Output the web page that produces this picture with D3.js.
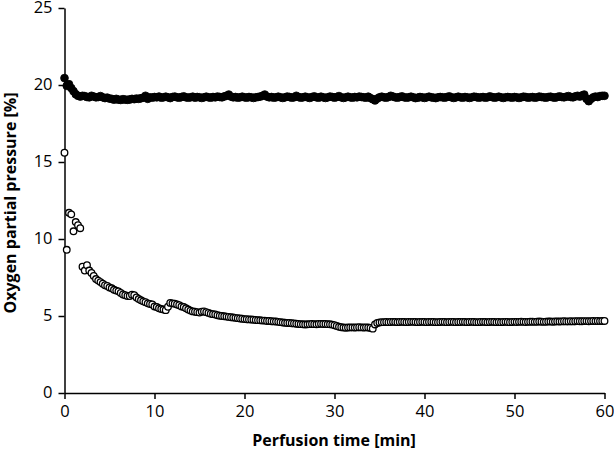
<!DOCTYPE html>
<html><head><meta charset="utf-8">
<script src="https://cdn.jsdelivr.net/npm/d3@7"></script>
<style>html,body{margin:0;padding:0;background:#fff;}svg{display:block;}</style>
</head><body>
<svg id="chart" width="614" height="452"></svg>
<script>
// sampling step of the recording, in minutes
const sampleStep = 0.25;
const xTicks = [0, 10, 20, 30, 40, 50, 60];
const yTicks = [0, 5, 10, 15, 20, 25];
const xTitle = "Perfusion time [min]";
const yTitle = "Oxygen partial pressure [%]";

// filled circles
const normoxia = [
 20.45, 19.95, 20.05, 19.8, 19.6, 19.4, 19.3, 19.25,
 19.3, 19.28, 19.22, 19.2, 19.3, 19.25, 19.2, 19.22,
 19.28, 19.2, 19.15, 19.18, 19.12, 19.1, 19.05, 19.1,
 19.05, 19.03, 19.08, 19.05, 19.04, 19.06, 19.1, 19.08,
 19.12, 19.1, 19.14, 19.18, 19.3, 19.1, 19.2, 19.18,
 19.22, 19.2, 19.25, 19.18, 19.2, 19.24, 19.2, 19.15,
 19.22, 19.25, 19.2, 19.18, 19.22, 19.26, 19.2, 19.18,
 19.2, 19.24, 19.18, 19.22, 19.2, 19.16, 19.2, 19.24,
 19.2, 19.18, 19.22, 19.2, 19.25, 19.22, 19.2, 19.26,
 19.3, 19.38, 19.25, 19.2, 19.22, 19.18, 19.2, 19.24,
 19.2, 19.18, 19.22, 19.2, 19.16, 19.2, 19.22, 19.25,
 19.3, 19.38, 19.25, 19.2, 19.22, 19.18, 19.2, 19.24,
 19.2, 19.16, 19.2, 19.25, 19.22, 19.18, 19.2, 19.3,
 19.22, 19.18, 19.2, 19.24, 19.2, 19.16, 19.22, 19.26,
 19.2, 19.18, 19.24, 19.2, 19.16, 19.2, 19.25, 19.22,
 19.18, 19.22, 19.28, 19.2, 19.16, 19.2, 19.24, 19.2,
 19.18, 19.22, 19.2, 19.25, 19.22, 19.2, 19.18, 19.24,
 19.15, 19.08, 19.0, 19.12, 19.2, 19.24, 19.2, 19.18,
 19.22, 19.3, 19.25, 19.2, 19.18, 19.22, 19.26, 19.2,
 19.18, 19.2, 19.24, 19.2, 19.15, 19.18, 19.22, 19.2,
 19.16, 19.2, 19.24, 19.2, 19.18, 19.15, 19.2, 19.22,
 19.2, 19.18, 19.22, 19.26, 19.2, 19.16, 19.2, 19.24,
 19.2, 19.18, 19.22, 19.2, 19.16, 19.2, 19.24, 19.22,
 19.18, 19.2, 19.22, 19.18, 19.2, 19.26, 19.22, 19.18,
 19.2, 19.24, 19.2, 19.16, 19.2, 19.22, 19.2, 19.18,
 19.22, 19.2, 19.16, 19.2, 19.24, 19.22, 19.18, 19.2,
 19.22, 19.18, 19.2, 19.25, 19.22, 19.2, 19.18, 19.22,
 19.24, 19.2, 19.18, 19.22, 19.26, 19.22, 19.2, 19.24,
 19.28, 19.22, 19.2, 19.26, 19.3, 19.25, 19.32, 19.38,
 19.1, 18.95, 19.1, 19.2, 19.25, 19.22, 19.28, 19.3,
 19.3
];

// open circles
const hypoxia = [
 15.6, 9.3, 11.7, 11.6, 10.5, 11.1, 10.9, 10.7,
 8.2, 7.95, 8.3, 7.95, 7.8, 7.6, 7.4, 7.3,
 7.2, 7.1, 7.0, 6.95, 6.85, 6.8, 6.7, 6.65,
 6.6, 6.5, 6.4, 6.35, 6.3, 6.3, 6.38, 6.35,
 6.2, 6.1, 6.02, 5.95, 5.9, 5.82, 5.78, 5.75,
 5.62, 5.58, 5.5, 5.45, 5.42, 5.38, 5.6, 5.85,
 5.82, 5.8, 5.75, 5.7, 5.62, 5.58, 5.5, 5.42,
 5.35, 5.3, 5.28, 5.25, 5.22, 5.28, 5.3, 5.25,
 5.2, 5.15, 5.12, 5.1, 5.05, 5.02, 5.0, 4.98,
 4.96, 4.94, 4.92, 4.9, 4.88, 4.86, 4.84, 4.82,
 4.8, 4.79, 4.78, 4.77, 4.76, 4.74, 4.73, 4.72,
 4.7, 4.7, 4.68, 4.68, 4.66, 4.65, 4.64, 4.62,
 4.6, 4.58, 4.56, 4.55, 4.55, 4.53, 4.52, 4.5,
 4.48, 4.47, 4.46, 4.45, 4.46, 4.47, 4.48, 4.47,
 4.46, 4.48, 4.49, 4.48, 4.48, 4.47, 4.46, 4.44,
 4.4, 4.35, 4.3, 4.27, 4.25, 4.24, 4.25, 4.26,
 4.26, 4.25, 4.26, 4.27, 4.26, 4.25, 4.26, 4.25,
 4.22, 4.18, 4.45, 4.55, 4.58, 4.6, 4.6, 4.61,
 4.6, 4.61, 4.62, 4.61, 4.6, 4.61, 4.62, 4.61,
 4.6, 4.61, 4.62, 4.62, 4.61, 4.6, 4.61, 4.62,
 4.61, 4.6, 4.61, 4.62, 4.61, 4.6, 4.6, 4.61,
 4.62, 4.61, 4.6, 4.61, 4.62, 4.61, 4.6, 4.61,
 4.61, 4.62, 4.61, 4.6, 4.61, 4.62, 4.61, 4.6,
 4.6, 4.61, 4.62, 4.61, 4.6, 4.61, 4.62, 4.61,
 4.6, 4.61, 4.6, 4.61, 4.62, 4.61, 4.6, 4.61,
 4.62, 4.61, 4.62, 4.63, 4.62, 4.61, 4.62, 4.63,
 4.63, 4.62, 4.63, 4.64, 4.63, 4.62, 4.63, 4.64,
 4.64, 4.63, 4.64, 4.65, 4.64, 4.65, 4.66, 4.65,
 4.65, 4.66, 4.65, 4.66, 4.67, 4.66, 4.66, 4.67,
 4.67, 4.66, 4.67, 4.68, 4.67, 4.68, 4.67, 4.68,
 4.68
];

const svg = d3.select("#chart");
const x = d3.scaleLinear().domain([0, 60]).range([64.5, 604.5]);
const y = d3.scaleLinear().domain([0, 25]).range([393, 8]);
const font = "'Open Sans', sans-serif";

// axes
const gx = svg.append("g").attr("transform", `translate(0,${y(0)})`)
  .call(d3.axisBottom(x).tickValues(xTicks).tickSize(6).tickSizeOuter(0).tickPadding(6));
const gy = svg.append("g").attr("transform", `translate(${x(0)},0)`)
  .call(d3.axisLeft(y).tickValues(yTicks).tickSize(6).tickSizeOuter(0).tickPadding(6));
[gx, gy].forEach(g => {
  g.selectAll("path.domain").attr("stroke", "#000").attr("stroke-width", 1.5);
  g.selectAll(".tick line").attr("stroke", "#000").attr("stroke-width", 1.5);
  g.selectAll(".tick text").attr("fill", "#000").style("font-family", font).style("font-size", "16.5px");
});
gy.selectAll(".tick text").attr("dy", "0.3em");

const pts = arr => arr.map((v, i) => ({t: i * sampleStep, v}));

svg.append("g").selectAll("circle").data(pts(normoxia)).join("circle")
  .attr("cx", d => x(d.t)).attr("cy", d => y(d.v)).attr("r", 3.9)
  .attr("fill", "#000").attr("stroke", "#000").attr("stroke-width", 0.8);

svg.append("g").selectAll("circle").data(pts(hypoxia)).join("circle")
  .attr("cx", d => x(d.t)).attr("cy", d => y(d.v)).attr("r", 3.3)
  .attr("fill", "#fff").attr("stroke", "#000").attr("stroke-width", 1.3);

// titles
svg.append("text").attr("x", 334).attr("y", 446).attr("text-anchor", "middle")
  .style("font-family", font).style("font-size", "16px").style("font-weight", "bold")
  .text(xTitle);
svg.append("text").attr("transform", "translate(16,203) rotate(-90)").attr("text-anchor", "middle")
  .style("font-family", font).style("font-size", "16px").style("font-weight", "bold")
  .text(yTitle);
</script>
</body></html>
